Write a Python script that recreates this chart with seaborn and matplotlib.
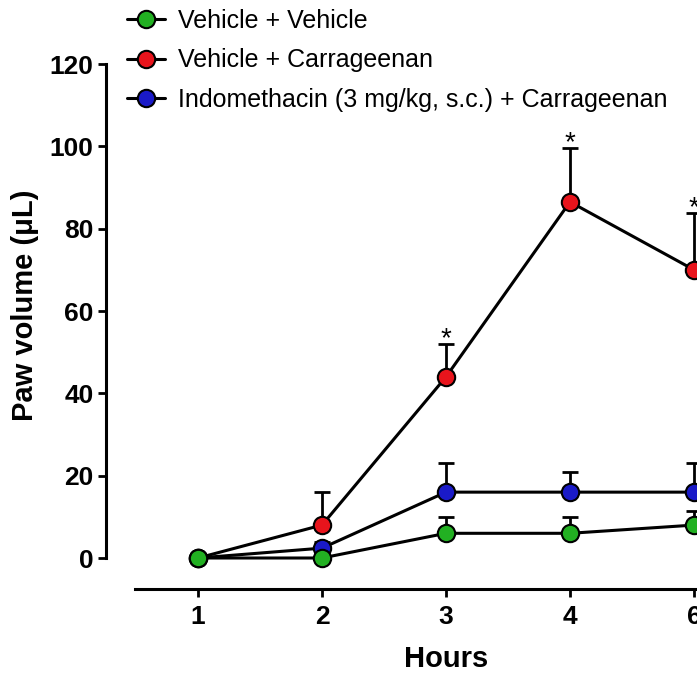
import matplotlib
matplotlib.use('Agg')
import matplotlib.pyplot as plt
import seaborn as sns
import numpy as np

hours = ['1', '2', '3', '4', '6']
groups = ['Vehicle + Vehicle', 'Vehicle + Carrageenan',
          'Indomethacin (3 mg/kg, s.c.) + Carrageenan']
colors = ['#22b022', '#e8141c', '#1a1ac8']

veh_veh = [0, 0, 6, 6, 8]
veh_veh_sem = [0, 0, 4, 4, 3.5]
veh_carr = [0, 8, 44, 86.5, 70]
veh_carr_sem = [0, 8, 8, 13, 13.7]
indo_carr = [0, 2.4, 16, 16, 16]
indo_carr_sem = [0, 1.5, 7, 5, 7]
# significance marks for Vehicle + Carrageenan
stars = ['', '', '*', '*', '*']

sns.set_theme(style='ticks')
plt.rcParams['font.family'] = ['Liberation Sans', 'DejaVu Sans']
plt.rcParams.update({'text.color': 'black', 'axes.labelcolor': 'black',
                     'xtick.color': 'black', 'ytick.color': 'black'})

fig = plt.figure(figsize=(6.97, 6.77), dpi=100)
ax = fig.add_axes([106 / 697, 88 / 677, 650 / 697, 525 / 677])

x = np.arange(len(hours))
means = [veh_veh, veh_carr, indo_carr]
sems = [veh_veh_sem, veh_carr_sem, indo_carr_sem]

# draw red, blue, then green so green sits on top
for i in [1, 2, 0]:
    ax.errorbar(x, means[i], yerr=[np.zeros(len(x)), sems[i]], fmt='none',
                ecolor='black', elinewidth=2, capsize=6, capthick=2, zorder=1)
    sns.lineplot(x=x, y=means[i], ax=ax, color='black', linewidth=2.2,
                 marker='o', markersize=12.5, markerfacecolor=colors[i],
                 markeredgecolor='black', markeredgewidth=1.5,
                 label=groups[i], errorbar=None)

for xi, m, s, st in zip(x, veh_carr, veh_carr_sem, stars):
    if st:
        ax.annotate(st, (xi, m + s), xytext=(0, -1.5), textcoords='offset points',
                    ha='center', va='baseline', fontsize=20, color='black')

handles, labels = ax.get_legend_handles_labels()
order = [labels.index(g) for g in groups]
leg = ax.legend([handles[k] for k in order], [labels[k] for k in order],
                loc='upper left', bbox_to_anchor=(127 / 697, 1 - 9 / 677),
                bbox_transform=fig.transFigure, frameon=False, fontsize=18,
                handlelength=1.5, handletextpad=0.55, labelspacing=0.62,
                borderpad=0, borderaxespad=0)
for t in leg.get_texts():
    t.set_color('black')

ax.set_xlim(-0.742, 4.5)
ax.set_ylim(-7.53, 120)
ax.set_xticks(x, hours)
ax.set_yticks(range(0, 121, 20))

sns.despine(ax=ax)
for side in ['left', 'bottom']:
    ax.spines[side].set_linewidth(2.2)
    ax.spines[side].set_color('black')
ax.spines['left'].set_bounds(0, 120)
ax.spines['bottom'].set_bounds(-0.508, 4.5)

ax.tick_params(axis='both', width=2, length=6, labelsize=19)
ax.tick_params(axis='x', pad=5.5)
ax.tick_params(axis='y', pad=3)
for lab in ax.get_xticklabels() + ax.get_yticklabels():
    lab.set_fontweight('bold')

ax.set_xlabel('Hours', fontsize=21, fontweight='bold')
ax.xaxis.set_label_coords(0.523, -0.106)
ax.set_ylabel('Paw volume (μL)', fontsize=21, fontweight='bold')
ax.yaxis.set_label_coords(-0.103, 0.541)

fig.savefig('out.png', dpi=100)
